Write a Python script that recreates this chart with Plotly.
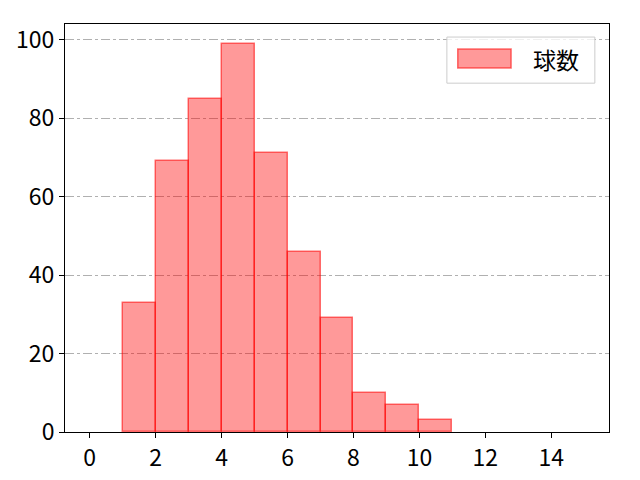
import plotly.graph_objects as go

# histogram bins (left edges) and counts
bin_left = [1, 2, 3, 4, 5, 6, 7, 8, 9, 10]
counts = [33, 69, 85, 99, 71, 46, 29, 10, 7, 3]
x_ticks = [0, 2, 4, 6, 8, 10, 12, 14]
y_ticks = [0, 20, 40, 60, 80, 100]
series_name = '球数'

centers = [b + 0.5 for b in bin_left]
fill = 'rgba(255,0,0,0.4)'
edge = 'rgba(255,0,0,0.55)'

fig = go.Figure()
fig.add_trace(go.Bar(
    x=centers, y=counts, width=1, name=series_name,
    marker=dict(color=fill, line=dict(color=edge, width=1.5)),
    showlegend=False,
))

# matplotlib-style legend box drawn by hand (wide patch)
fig.add_shape(type='rect', xref='paper', yref='paper',
              x0=0.702, x1=0.974, y0=0.855, y1=0.968,
              line=dict(color='#cccccc', width=1), fillcolor='rgba(255,255,255,0.8)')
fig.add_shape(type='rect', xref='paper', yref='paper',
              x0=0.722, x1=0.820, y0=0.892, y1=0.939,
              line=dict(color=edge, width=1.5), fillcolor=fill)
fig.add_annotation(xref='paper', yref='paper', x=0.856, y=0.915,
                   xanchor='left', yanchor='middle',
                   text=series_name, showarrow=False,
                   font=dict(family='Noto Sans CJK JP', size=23, color='black'))

# page has an 8px body margin, so margins are shifted to compensate
fig.update_layout(
    width=640, height=480,
    margin=dict(l=57, r=39, t=16, b=56),
    plot_bgcolor='white', paper_bgcolor='white',
    font=dict(family='Noto Sans CJK JP', size=23, color='black'),
    bargap=0,
)
fig.update_xaxes(range=[-0.75, 15.75], tickvals=x_ticks, showgrid=False,
                 ticks='outside', ticklen=5, tickwidth=1, tickcolor='black',
                 showline=True, linecolor='black', linewidth=1, mirror=True,
                 zeroline=False, automargin=False)
fig.update_yaxes(range=[0, 104], tickvals=y_ticks, showgrid=True,
                 gridcolor='#b0b0b0', griddash='dashdot', gridwidth=1,
                 ticks='outside', ticklen=5, tickwidth=1, tickcolor='black',
                 showline=True, linecolor='black', linewidth=1, mirror=True,
                 zeroline=False, automargin=False)

fig.write_html("out.html")
